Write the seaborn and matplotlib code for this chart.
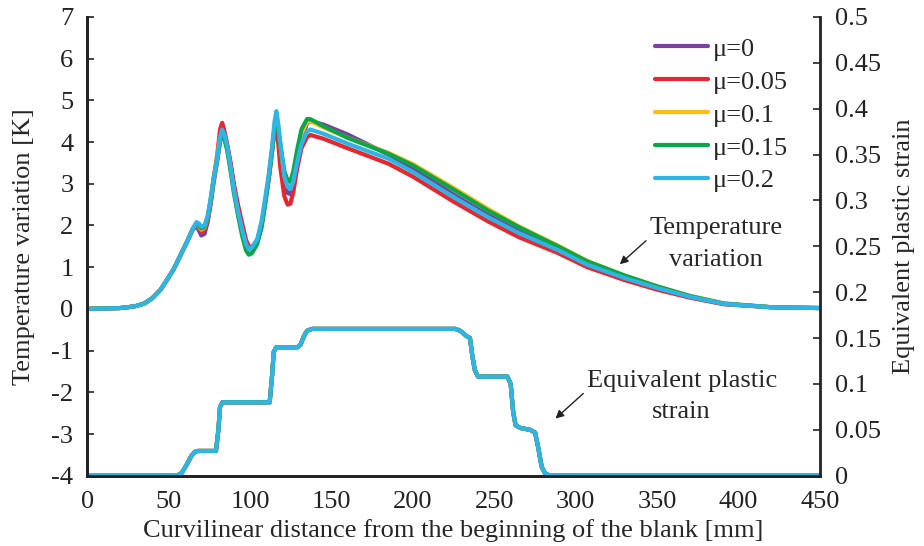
import matplotlib
matplotlib.use('Agg')
import matplotlib.pyplot as plt
import pandas as pd
import seaborn as sns


# friction coefficients and their colours
mu_labels = ['μ=0', 'μ=0.05', 'μ=0.1', 'μ=0.15', 'μ=0.2']
mu_colors = ['#7B3FA0', '#E82630', '#FDBE10', '#0BA64A', '#2FB5E5']

# temperature variation [K] along the blank [mm]
temp_x = [0, 10, 20, 25, 30, 35, 40, 45, 49, 53, 57, 61.5, 64.5, 67, 68.5, 70, 72, 74, 75.7,
          77.5, 79.8, 81.5, 82.8, 84, 85.9, 88, 90, 92.5, 95.1, 97.5, 99.2, 101, 104.3, 107,
          109.4, 111.5, 113.5, 115, 116.1, 117.2, 118.5, 121, 123, 124.7, 126.5, 128.8, 131.5,
          134.9, 137, 145, 160, 185, 200, 225, 246, 265, 289, 307, 330, 350, 370, 391, 420, 450]
temp_mu0 = [0, 0.01, 0.02, 0.04, 0.07, 0.13, 0.26, 0.46, 0.7, 0.95, 1.27, 1.63, 1.88, 2.0,
            1.88, 1.76, 1.8, 2.1, 2.5, 3.0, 3.55, 4.0, 4.2, 4.15, 3.9, 3.45, 2.95, 2.45, 1.95,
            1.6, 1.48, 1.46, 1.62, 2.0, 2.6, 3.15, 3.8, 4.35, 4.6, 4.3, 3.8, 3.0, 2.78, 2.75,
            3.0, 3.5, 4.05, 4.45, 4.5, 4.42, 4.18, 3.7, 3.36, 2.74, 2.25, 1.86, 1.43, 1.08,
            0.75, 0.5, 0.29, 0.12, 0.04, 0.02]
temp_mu005 = [0, 0.01, 0.02, 0.04, 0.07, 0.13, 0.26, 0.46, 0.7, 0.95, 1.27, 1.63, 1.89, 2.03,
              1.95, 1.85, 1.9, 2.15, 2.55, 3.1, 3.7, 4.3, 4.46, 4.3, 3.95, 3.5, 3.0, 2.5, 2.05,
              1.65, 1.5, 1.48, 1.62, 2.0, 2.6, 3.15, 3.8, 4.3, 4.55, 4.0, 3.4, 2.7, 2.5, 2.52,
              2.8, 3.35, 3.85, 4.12, 4.17, 4.08, 3.85, 3.48, 3.17, 2.57, 2.1, 1.72, 1.34, 1.0,
              0.69, 0.46, 0.27, 0.11, 0.04, 0.02]
temp_mu01 = [0, 0.01, 0.02, 0.04, 0.07, 0.13, 0.26, 0.46, 0.7, 0.95, 1.27, 1.63, 1.9, 2.05,
             1.98, 1.9, 1.95, 2.2, 2.6, 3.1, 3.65, 4.1, 4.25, 4.15, 3.85, 3.35, 2.85, 2.3, 1.85,
             1.5, 1.4, 1.42, 1.6, 2.0, 2.6, 3.2, 3.85, 4.4, 4.65, 4.4, 3.95, 3.2, 2.98, 2.95,
             3.2, 3.7, 4.2, 4.48, 4.5, 4.35, 4.1, 3.74, 3.47, 2.9, 2.4, 1.98, 1.52, 1.15, 0.8,
             0.54, 0.31, 0.13, 0.04, 0.02]
temp_mu015 = [0, 0.01, 0.02, 0.04, 0.07, 0.13, 0.26, 0.46, 0.7, 0.95, 1.27, 1.63, 1.9, 2.05,
              2.0, 1.93, 1.97, 2.2, 2.6, 3.1, 3.6, 4.05, 4.2, 4.1, 3.8, 3.3, 2.78, 2.25, 1.75,
              1.4, 1.3, 1.33, 1.55, 1.95, 2.55, 3.15, 3.8, 4.3, 4.5, 4.3, 3.95, 3.3, 3.08, 3.05,
              3.3, 3.8, 4.3, 4.55, 4.55, 4.38, 4.1, 3.72, 3.44, 2.86, 2.36, 1.96, 1.5, 1.14, 0.8,
              0.54, 0.31, 0.13, 0.04, 0.02]
temp_mu02 = [0, 0.01, 0.02, 0.04, 0.07, 0.13, 0.26, 0.46, 0.7, 0.95, 1.27, 1.63, 1.9, 2.08,
             2.05, 1.97, 2.0, 2.25, 2.63, 3.1, 3.6, 4.1, 4.3, 4.2, 3.9, 3.4, 2.86, 2.35, 1.9,
             1.55, 1.43, 1.47, 1.67, 2.1, 2.7, 3.25, 3.9, 4.5, 4.74, 4.45, 4.0, 3.18, 2.92, 2.87,
             3.05, 3.5, 3.95, 4.25, 4.3, 4.2, 3.96, 3.6, 3.28, 2.68, 2.2, 1.82, 1.41, 1.06,
             0.74, 0.5, 0.29, 0.12, 0.04, 0.02]

# equivalent plastic strain along the blank (nearly identical for every mu)
strain_x = [0, 55, 58, 61, 64, 66, 68, 79, 80.5, 81.5, 83, 112, 113.5, 114.5, 116, 129, 131,
            133, 135, 138, 226, 229, 233, 235, 236.5, 238, 240, 258, 260, 261.5, 263, 266, 272,
            275, 277, 279, 281, 284, 290, 450]
strain_y = [0, 0, 0.003, 0.012, 0.022, 0.026, 0.027, 0.027, 0.05, 0.075, 0.08, 0.08, 0.11,
            0.135, 0.14, 0.14, 0.143, 0.152, 0.158, 0.16, 0.16, 0.158, 0.152, 0.15, 0.13, 0.115,
            0.108, 0.108, 0.1, 0.07, 0.055, 0.052, 0.05, 0.047, 0.03, 0.01, 0.003, 0, 0, 0]

temp_series = [temp_mu0, temp_mu005, temp_mu01, temp_mu015, temp_mu02]

temp_df = pd.concat([pd.DataFrame({'x': temp_x, 'T': vals, 'mu': lab})
                     for vals, lab in zip(temp_series, mu_labels)], ignore_index=True)
strain_df = pd.concat([pd.DataFrame({'x': strain_x, 'eps': strain_y, 'mu': lab})
                       for lab in mu_labels], ignore_index=True)

sns.set_theme(style='white')
plt.rcParams['font.family'] = ['Liberation Serif', 'DejaVu Serif']
plt.rcParams['axes.unicode_minus'] = False
fs = 19

fig = plt.figure(figsize=(9.24, 5.46), dpi=100)
ax = fig.add_axes([0.0945, 0.1287, 0.793, 0.8403])
sns.lineplot(data=temp_df, x='x', y='T', hue='mu', hue_order=mu_labels, palette=mu_colors,
             lw=3, estimator=None, sort=False, ax=ax)

ax2 = ax.twinx()
sns.lineplot(data=strain_df, x='x', y='eps', hue='mu', hue_order=mu_labels, palette=mu_colors,
             lw=3, estimator=None, sort=False, legend=False, ax=ax2)

ax.set_xlim(0, 450)
ax.set_ylim(-4, 7)
ax2.set_ylim(0, 0.5)
ax.set_xticks(range(0, 451, 50))
ax.set_yticks(range(-4, 8))
ax2.set_yticks([i * 0.05 for i in range(11)])
ax2.set_yticklabels(['0', '0.05', '0.1', '0.15', '0.2', '0.25', '0.3', '0.35', '0.4', '0.45', '0.5'])

ax.set_xlabel('Curvilinear distance from the beginning of the blank [mm]', fontsize=fs, labelpad=4)
ax.set_ylabel('Temperature variation [K]', fontsize=fs, labelpad=12)
ax2.set_ylabel('Equivalent plastic strain', fontsize=fs, labelpad=8)

for a in (ax, ax2):
    a.tick_params(direction='in', length=5, width=1.2, labelsize=fs, colors='#222222',
                  labelcolor='#222222', pad=10)
    a.spines['top'].set_visible(False)
    for s in ('left', 'right', 'bottom'):
        a.spines[s].set_color('#222222')
        a.spines[s].set_linewidth(2)
ax.tick_params(axis='x', pad=11)
ax.tick_params(axis='y', which='both', right=False)
ax2.tick_params(axis='y', left=False, right=True, pad=11)
ax.spines['right'].set_visible(False)

handles, labels = ax.get_legend_handles_labels()
ax.legend(handles, labels, loc='upper left', bbox_to_anchor=(0.775, 0.956), frameon=False,
          fontsize=fs, handlelength=2.0, handletextpad=0.2, labelspacing=0.36,
          borderaxespad=0, borderpad=0)

ax.annotate('Temperature\nvariation', xy=(327, 1.07), xytext=(386, 1.55), fontsize=fs,
            ha='center', va='center', linespacing=1.58,
            arrowprops=dict(arrowstyle='-|>', color='#222222', lw=1, shrinkA=0, shrinkB=0,
                            mutation_scale=12, relpos=(0.0, 0.62)))
ax.annotate('Equivalent plastic\nstrain', xy=(287.5, -2.63), xytext=(365, -2.11), fontsize=fs,
            ha='center', va='center', linespacing=1.52,
            arrowprops=dict(arrowstyle='-|>', color='#222222', lw=1, shrinkA=0, shrinkB=0,
                            mutation_scale=12, relpos=(0.0, 0.62)))

fig.savefig('out.png', dpi=100)
plt.close(fig)
